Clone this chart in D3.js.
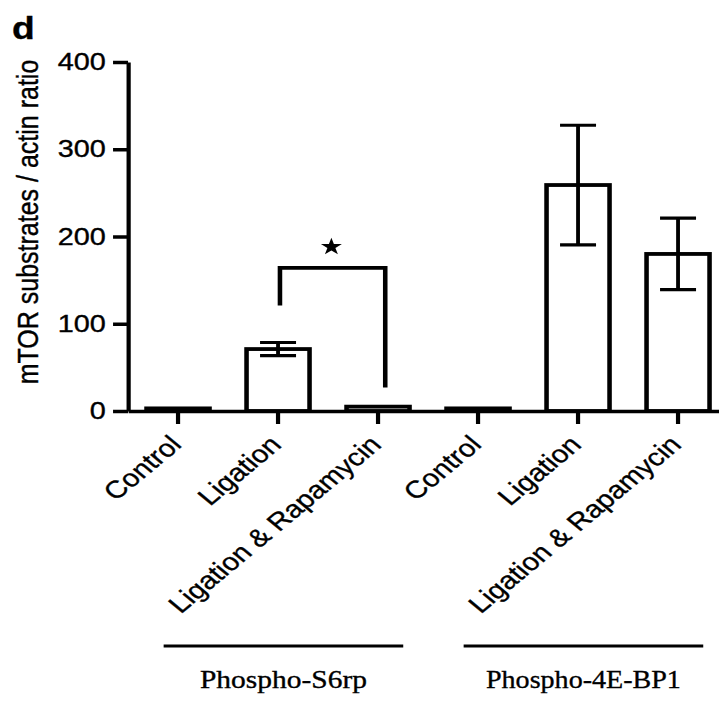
<!DOCTYPE html>
<html>
<head>
    <title>mTOR substrates</title>
    <script src="https://d3js.org/d3.v7.min.js"></script>
    <style>
        body {
            margin: 0;
            background-color: white;
        }
        svg text {
            font-family: "Liberation Sans", Arial, sans-serif;
            fill: black;
            stroke: black;
            stroke-width: 0.35px;
        }
        svg text.group-label {
            font-family: "Liberation Serif", "Times New Roman", serif;
        }
    </style>
</head>
<body>
    <div id="chart"></div>
    <script>
        // Data
        const groups = ["Phospho-S6rp", "Phospho-4E-BP1"];
        const conditions = ["Control", "Ligation", "Ligation & Rapamycin"];
        const means = [3, 71, 5, 3, 259, 180];
        const sems = [0, 7.5, 0, 0, 68.5, 41];
        const yTicks = [0, 100, 200, 300, 400];
        // significance bracket: between bar 1 and bar 2, top value, left and right end values
        const bracketBars = [1, 2];
        const bracketValues = [164, 121, 27];

        const width = 719;
        const height = 702;
        const sx = 1.2; // the figure is stretched horizontally

        const bars = [];
        groups.forEach(g => conditions.forEach(c => bars.push({ key: g + "|" + c, group: g, label: c })));
        bars.forEach((d, i) => { d.mean = means[i]; d.sem = sems[i]; });

        const svg = d3.select("#chart")
            .append("svg")
            .attr("width", width)
            .attr("height", height);

        const root = svg.append("g").attr("transform", `scale(${sx},1)`);

        const x = d3.scaleBand()
            .domain(bars.map(d => d.key))
            .range([106.7, 606.7])
            .paddingInner(0.37)
            .paddingOuter(0.185);
        const xc = k => x(k) + x.bandwidth() / 2;

        const y = d3.scaleLinear()
            .domain([0, 400])
            .range([411, 62]);

        // bars
        root.append("g")
            .selectAll("rect")
            .data(bars)
            .join("rect")
            .attr("x", d => x(d.key))
            .attr("width", x.bandwidth())
            .attr("y", d => y(d.mean))
            .attr("height", d => y(0) - y(d.mean))
            .attr("fill", "white")
            .attr("stroke", "black")
            .attr("stroke-width", 3.8);

        // error bars
        const err = root.append("g")
            .selectAll("g")
            .data(bars.filter(d => d.sem > 0))
            .join("g")
            .attr("stroke", "black")
            .attr("stroke-width", 3.2);
        err.append("line")
            .attr("x1", d => xc(d.key)).attr("x2", d => xc(d.key))
            .attr("y1", d => y(d.mean - d.sem)).attr("y2", d => y(d.mean + d.sem));
        err.append("line")
            .attr("x1", d => xc(d.key) - 15).attr("x2", d => xc(d.key) + 15)
            .attr("y1", d => y(d.mean + d.sem)).attr("y2", d => y(d.mean + d.sem));
        err.append("line")
            .attr("x1", d => xc(d.key) - 15).attr("x2", d => xc(d.key) + 15)
            .attr("y1", d => y(d.mean - d.sem)).attr("y2", d => y(d.mean - d.sem));

        // y axis
        const yAxis = root.append("g")
            .attr("transform", `translate(${x.range()[0]},0)`)
            .call(d3.axisLeft(y).tickValues(yTicks).tickSizeInner(12.5).tickSizeOuter(0).tickPadding(6));
        yAxis.selectAll("path, line").attr("stroke", "black").attr("stroke-width", 3.5);
        yAxis.selectAll("text").attr("font-size", 24).attr("fill", "black")
            .style("font-family", "'Liberation Sans', Arial, sans-serif");

        // x axis
        const xAxis = root.append("g")
            .attr("transform", `translate(0,${y(0)})`)
            .call(d3.axisBottom(x).tickSizeInner(13).tickSizeOuter(0).tickFormat(""));
        xAxis.selectAll("path, line").attr("stroke", "black").attr("stroke-width", 3.5);

        // rotated category labels
        root.append("g")
            .selectAll("text")
            .data(bars)
            .join("text")
            .attr("transform", d => `translate(${xc(d.key) + 4},446) rotate(-45)`)
            .attr("text-anchor", "end")
            .attr("font-size", 24.5)
            .text(d => d.label);

        // y title
        root.append("text")
            .attr("transform", "translate(32,222) rotate(-90)")
            .attr("text-anchor", "middle")
            .attr("font-size", 25)
            .text("mTOR substrates / actin ratio");

        // panel letter
        root.append("text")
            .attr("x", 10)
            .attr("y", 39)
            .attr("font-size", 31)
            .attr("font-weight", "bold")
            .text("d");

        // significance bracket
        const bx1 = xc(bars[bracketBars[0]].key) + 1.6;
        const bx2 = xc(bars[bracketBars[1]].key) + 6;
        root.append("path")
            .attr("d", d3.line()([
                [bx1, y(bracketValues[1])],
                [bx1, y(bracketValues[0])],
                [bx2, y(bracketValues[0])],
                [bx2, y(bracketValues[2])]
            ]))
            .attr("fill", "none")
            .attr("stroke", "black")
            .attr("stroke-width", 3.8);
        root.append("path")
            .attr("transform", `translate(${(bx1 + bx2) / 2 - 1},${y(bracketValues[0]) - 21})`)
            .attr("d", d3.symbol(d3.symbolStar, 95)())
            .attr("fill", "black");

        // group lines and labels
        const groupG = root.append("g")
            .selectAll("g")
            .data(groups)
            .join("g");
        const gx1 = g => xc(bars.filter(d => d.group === g)[0].key) - 12;
        const gx2 = g => xc(bars.filter(d => d.group === g).slice(-1)[0].key) + 21;
        groupG.append("line")
            .attr("x1", gx1).attr("x2", gx2)
            .attr("y1", 646).attr("y2", 646)
            .attr("stroke", "black")
            .attr("stroke-width", 3);
        groupG.append("text")
            .attr("class", "group-label")
            .attr("x", g => (gx1(g) + gx2(g)) / 2)
            .attr("y", 688)
            .attr("text-anchor", "middle")
            .attr("font-size", 26)
            .attr("textLength", g => g.length * 11.6)
            .attr("lengthAdjust", "spacingAndGlyphs")
            .text(g => g);
    </script>
</body>
</html>
